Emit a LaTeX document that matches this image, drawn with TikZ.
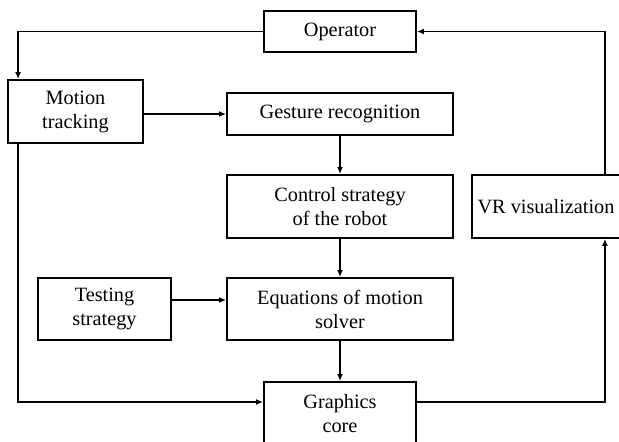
\documentclass[tikz,border=0pt]{standalone}
\usepackage{fontspec}
\setmainfont{Liberation Serif}
\usetikzlibrary{arrows.meta}
\begin{document}
\begin{tikzpicture}[x=1pt,y=-1pt,
  box/.style={draw,line width=1.9pt,inner sep=0pt,align=center,
    font=\fontsize{20.3}{24}\selectfont},
  arr/.style={line width=1.9pt,-{Latex[length=7pt,width=6pt]}}]
\useasboundingbox (0,0) rectangle (619,442);
\node[box,minimum width=152pt,minimum height=41pt] (op) at (340,31.5) {Operator};
\node[box,minimum width=135pt,minimum height=63pt] (mt) at (75.5,111.5) {Motion\\tracking};
\node[box,minimum width=226pt,minimum height=42pt] (gr) at (340,114) {Gesture recognition};
\node[box,minimum width=226pt,minimum height=63pt] (cs) at (340,206.5) {Control strategy\\of the robot};
\node[box,minimum width=148pt,minimum height=63pt] (vr) at (546,206.5) {VR visualization};
\node[box,minimum width=133pt,minimum height=62pt] (ts) at (104.5,309) {Testing\\strategy};
\node[box,minimum width=226pt,minimum height=62pt] (eq) at (340,309) {Equations of motion\\solver};
\node[box,minimum width=152pt,minimum height=63pt] (gc) at (340,413.5) {Graphics\\core};
\draw[arr] (op.west) -| ([xshift=11pt]mt.north west);
\draw[arr] (mt.east |- gr.west) -- (gr.west);
\draw[arr] (gr.south) -- (cs.north);
\draw[arr] (cs.south) -- (eq.north);
\draw[arr] ([yshift=9pt]ts.east) -- ([yshift=9pt]eq.west);
\draw[arr] (eq.south) -- (gc.north);
\draw[arr] ([xshift=11pt]mt.south west) |- ([yshift=11.5pt]gc.west);
\draw[arr] ([yshift=11.5pt]gc.east) -| ([xshift=-16pt]vr.south east);
\draw[arr] ([xshift=-16pt]vr.north east) |- (op.east);
\end{tikzpicture}
\end{document}
